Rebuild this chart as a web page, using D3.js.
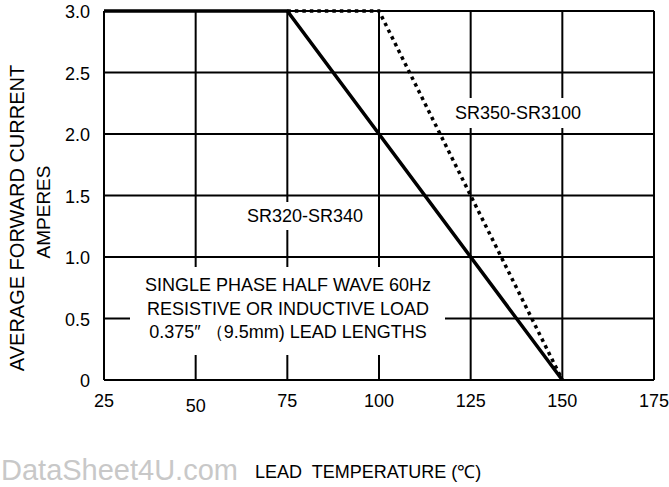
<!DOCTYPE html>
<html>
<head>
<meta charset="utf-8">
<script src="https://cdn.jsdelivr.net/npm/d3@7"></script>
<style>
  body { margin: 0; background: #fff; }
  svg { display: block; font-family: "Liberation Sans", Arial, sans-serif; }
</style>
</head>
<body>
<figure id="chart" style="margin:0"></figure>
<script>
// data
const xTicks = [25, 50, 75, 100, 125, 150, 175];
const yTicks = [0, 0.5, 1.0, 1.5, 2.0, 2.5, 3.0];
const yTickLabels = ["0", "0.5", "1.0", "1.5", "2.0", "2.5", "3.0"];
const srLowTemp = [25, 75, 150];
const srLowCurrent = [3.0, 3.0, 0];
const srHighTemp = [75, 100, 150];
const srHighCurrent = [3.0, 3.0, 0];
const noteLines = [
  "SINGLE PHASE HALF WAVE 60Hz",
  "RESISTIVE OR INDUCTIVE LOAD",
  "0.375\u2033 \uFF089.5mm) LEAD LENGTHS"
];

const W = 669, H = 487;
const margin = { top: 11, right: 15, bottom: 107, left: 104 };
const width = W - margin.left - margin.right;
const height = H - margin.top - margin.bottom;

const svg = d3.select("figure#chart")
  .append("svg")
  .attr("width", W)
  .attr("height", H);

const g = svg.append("g")
  .attr("transform", "translate(" + margin.left + "," + margin.top + ")");

const x = d3.scaleLinear().domain([25, 175]).range([0, width]);
const y = d3.scaleLinear().domain([0, 3]).range([height, 0]);

// grid lines
g.selectAll(".vgrid")
  .data(xTicks.slice(1))
  .enter().append("line")
  .attr("x1", d => x(d)).attr("x2", d => x(d))
  .attr("y1", 0).attr("y2", height)
  .attr("stroke", "#000").attr("stroke-width", 2);

g.selectAll(".hgrid")
  .data(yTicks.slice(1))
  .enter().append("line")
  .attr("x1", 0).attr("x2", width)
  .attr("y1", d => y(d)).attr("y2", d => y(d))
  .attr("stroke", "#000").attr("stroke-width", 2);

// left and bottom axis lines
g.append("line").attr("x1", 0).attr("x2", 0).attr("y1", 0).attr("y2", height)
  .attr("stroke", "#000").attr("stroke-width", 2);
g.append("line").attr("x1", 0).attr("x2", width).attr("y1", height).attr("y2", height)
  .attr("stroke", "#000").attr("stroke-width", 2);

// white boxes behind labels
g.append("rect").attr("x", 130 - margin.left).attr("y", 267 - margin.top)
  .attr("width", 315).attr("height", 88).attr("fill", "#fff");
g.append("rect").attr("x", 450 - margin.left).attr("y", 98 - margin.top)
  .attr("width", 140).attr("height", 30).attr("fill", "#fff");
g.append("rect").attr("x", 250 - margin.left).attr("y", 202 - margin.top)
  .attr("width", 112).attr("height", 28).attr("fill", "#fff");

// curves
const line = d3.line().x(d => x(d[0])).y(d => y(d[1]));

g.append("path")
  .datum(d3.zip(srHighTemp, srHighCurrent))
  .attr("d", line)
  .attr("fill", "none")
  .attr("stroke", "#000")
  .attr("stroke-width", 3.5)
  .attr("stroke-dasharray", "3.5,4");

g.append("path")
  .datum(d3.zip(srLowTemp, srLowCurrent))
  .attr("d", line)
  .attr("fill", "none")
  .attr("stroke", "#000")
  .attr("stroke-width", 3.5);

// tick labels
g.selectAll(".xlab")
  .data(xTicks)
  .enter().append("text")
  .attr("x", d => x(d))
  .attr("y", (d, i) => height + 27 + (i === 1 ? 5 : 0))
  .attr("text-anchor", "middle")
  .attr("font-size", 18)
  .text(d => d);

g.selectAll(".ylab")
  .data(yTicks)
  .enter().append("text")
  .attr("x", -14)
  .attr("y", d => y(d) + 7)
  .attr("text-anchor", "end")
  .attr("font-size", 18)
  .text((d, i) => yTickLabels[i]);

// series labels
svg.append("text").attr("x", 518).attr("y", 119)
  .attr("text-anchor", "middle").attr("font-size", 18).text("SR350-SR3100");
svg.append("text").attr("x", 305).attr("y", 222)
  .attr("text-anchor", "middle").attr("font-size", 18).text("SR320-SR340");

// note
svg.selectAll(".note")
  .data(noteLines)
  .enter().append("text")
  .attr("x", 288)
  .attr("y", (d, i) => 291 + i * 23.5)
  .attr("text-anchor", "middle")
  .attr("font-size", 18)
  .text(d => d);

// axis titles
svg.append("text")
  .attr("transform", "translate(24,218) rotate(-90)")
  .attr("text-anchor", "middle")
  .attr("font-size", 20)
  .text("AVERAGE FORWARD CURRENT");
svg.append("text")
  .attr("transform", "translate(50,212) rotate(-90)")
  .attr("text-anchor", "middle")
  .attr("font-size", 19)
  .text("AMPERES");

svg.append("text")
  .attr("x", 1).attr("y", 480)
  .attr("font-size", 29)
  .attr("fill", "#c8c8c8")
  .text("DataSheet4U.com");
svg.append("text")
  .attr("x", 255).attr("y", 478)
  .attr("font-size", 18)
  .attr("xml:space", "preserve")
  .text("LEAD  TEMPERATURE (\u2103)");
</script>
</body>
</html>
